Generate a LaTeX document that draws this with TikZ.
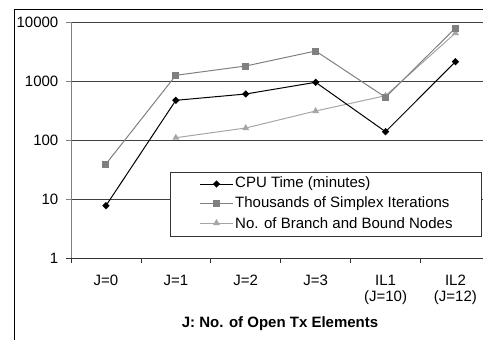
\documentclass[tikz,border=0pt]{standalone}
\usepackage{fontspec}
\setmainfont{Liberation Sans}
\usetikzlibrary{shapes.geometric}
\definecolor{sgray}{HTML}{808080}
\definecolor{bgray}{HTML}{A6A6A6}
\tikzset{
  lbl/.style={font=\fontsize{15}{17}\selectfont, inner sep=0pt},
  cpum/.style={diamond, fill=black, inner sep=0pt, minimum size=7.5pt},
  sxm/.style={rectangle, fill=sgray, inner sep=0pt, minimum size=7pt},
  bbm/.style={isosceles triangle, isosceles triangle apex angle=60, shape border rotate=90, fill=bgray, inner sep=0pt, minimum size=6pt},
  grid line/.style={black!75, line width=0.8pt},
}
\begin{document}
\begin{tikzpicture}[x=1pt,y=-1pt]
\useasboundingbox (0,0) rectangle (483,340);
\clip (0,0) rectangle (483,340);
% outer frame
\draw[black, line width=0.9pt] (14,9) rectangle (495,350);
% gridlines
\foreach \yy in {22,81.1,140.3,199.4} \draw[grid line] (71,\yy) -- (495,\yy);
% y axis
\draw[sgray, line width=0.9pt] (71,22) -- (71,258.5);
\foreach \yy/\t in {22/10000,81.1/1000,140.3/100,199.4/10,258.5/1} {
  \draw[sgray, line width=0.8pt] (66,\yy) -- (71,\yy);
  \node[lbl, anchor=east] at (58.5,\yy) {\t};
}
% x axis
\draw[black!80, line width=0.9pt] (66,258.5) -- (495,258.5);
\foreach \k in {0,...,6} \draw[black!80, line width=0.8pt] ({71+69.9*\k},258.5) -- ({71+69.9*\k},262.5);
% category labels
\foreach \k/\t in {0/J=0,1/J=1,2/J=2,3/J=3,4/IL1,5/IL2}
  \node[lbl] (c\k) at ({71+69.9*(\k+0.5)},280) {\t};
\node[lbl] (c4b) at ({71+69.9*4.5},298) {(J=10)};
\node[lbl] (c5b) at ({71+69.9*5.5},298) {(J=12)};
\node[lbl, font=\fontsize{15}{17}\selectfont\bfseries] (title) at (280,324) {J: No. of Open Tx Elements};
% data coordinates
\foreach \k/\a/\b/\c in {0/205.7/164/0,1/100.3/75.3/137.7,2/94/66/128,3/82.3/51/111,4/131.7/97.3/95.7,5/61.7/28/33} {
  \coordinate (cp\k) at ({71+69.9*(\k+0.5)},\a);
  \coordinate (sx\k) at ({71+69.9*(\k+0.5)},\b);
  \coordinate (bb\k) at ({71+69.9*(\k+0.5)},\c);
}
% B&B series
\draw[bgray, line width=1pt] (bb1) -- (bb2) -- (bb3) -- (bb4) -- (bb5);
\foreach \k in {1,...,5} \node[bbm] (bbn\k) at (bb\k) {};
% Simplex series
\draw[sgray, line width=1pt] (sx0) -- (sx1) -- (sx2) -- (sx3) -- (sx4) -- (sx5);
\foreach \k in {0,...,5} \node[sxm] (sxn\k) at (sx\k) {};
% CPU series
\draw[black, line width=1pt] (cp0) -- (cp1) -- (cp2) -- (cp3) -- (cp4) -- (cp5);
\foreach \k in {0,...,5} \node[cpum] (cpn\k) at (cp\k) {};
% legend
\draw[black!80, fill=white, line width=0.9pt] (170.7,172.7) rectangle (481.7,236.7);
\coordinate (l1a) at (200,184); \coordinate (l1b) at (233,184);
\coordinate (l2a) at (200,203.5); \coordinate (l2b) at (233,203.5);
\coordinate (l3a) at (200,223); \coordinate (l3b) at (233,223);
\draw[black, line width=1pt] (l1a) -- (l1b);
\node[cpum] (lm1) at (216.5,184) {};
\draw[sgray, line width=1pt] (l2a) -- (l2b);
\node[sxm] (lm2) at (216.5,203.5) {};
\draw[bgray, line width=1pt] (l3a) -- (l3b);
\node[bbm] (lm3) at (216.5,223) {};
\node[lbl, anchor=west] (lt1) at (235,184) {CPU Time (minutes)};
\node[lbl, anchor=west] (lt2) at (235,203.5) {Thousands of Simplex Iterations};
\node[lbl, anchor=west] (lt3) at (235,223) {No. of Branch and Bound Nodes};
\end{tikzpicture}
\end{document}
